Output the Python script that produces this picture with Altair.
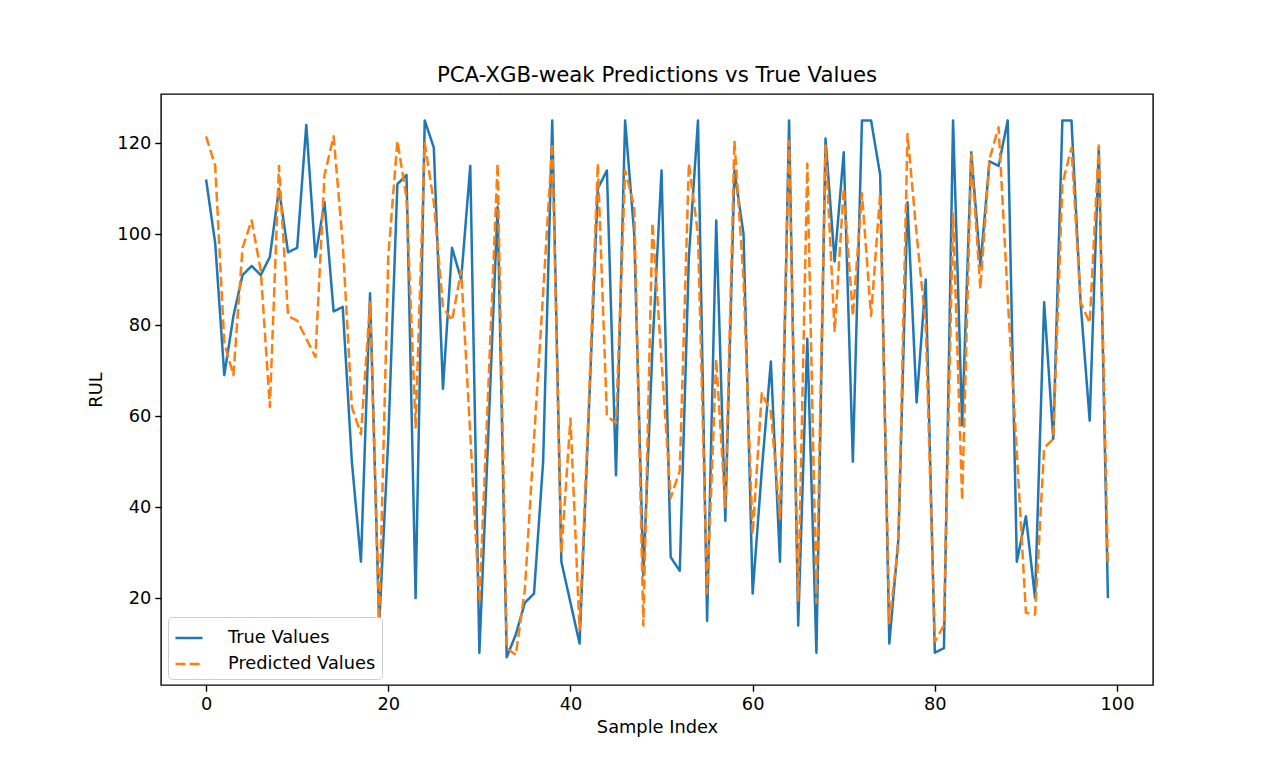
import altair as alt
import pandas as pd

# ---- data ----
sample_index = list(range(100))
true_values = [
    112, 98, 69, 82, 91, 93, 91, 95, 110, 96,
    97, 124, 95, 107, 83, 84, 50, 28, 87, 14,
    55, 111, 113, 20, 125, 119, 66, 97, 90, 115,
    8, 57, 106, 7, 12, 19, 21, 50, 125, 28,
    19, 10, 60, 110, 114, 47, 125, 100, 25, 75,
    114, 29, 26, 95, 125, 15, 103, 37, 114, 100,
    21, 48, 72, 28, 125, 14, 77, 8, 121, 94,
    118, 50, 125, 125, 113, 10, 33, 107, 63, 90,
    8, 9, 125, 58, 118, 93, 116, 115, 125, 28,
    38, 20, 85, 55, 125, 125, 85, 59, 119, 20,
]
predicted_values = [
    121.5, 115, 76, 69, 97, 103, 92, 62, 115, 82,
    81, 77, 73, 113, 121.5, 98, 62, 56, 85, 15,
    95, 120.5, 108, 57.5, 120, 107, 84, 81, 92, 56,
    19, 67, 115.5, 9, 7.5, 22, 55, 87, 120, 30,
    59.5, 13, 62, 115.5, 60, 58.5, 114, 106, 14, 102.5,
    72, 42, 48, 115.5, 100, 21, 72.5, 40, 120.5, 90,
    34, 65, 61, 37.5, 120.5, 19.5, 115.5, 19, 119.5, 78.5,
    110, 82, 109, 82, 109, 14.5, 32, 122, 100, 80,
    10.5, 14, 104.5, 41.5, 117.5, 88, 116.5, 123.5, 86, 52,
    16.8, 16.4, 53, 55, 111, 119, 85, 80.5, 119.5, 27,
]
series_names = ["True Values", "Predicted Values"]
series_colors = ["#1f77b4", "#ff7f0e"]
x_ticks = [0, 20, 40, 60, 80, 100]
y_ticks = [20, 40, 60, 80, 100, 120]

df = pd.DataFrame({
    "idx": sample_index * 2,
    "value": true_values + predicted_values,
    "series": [series_names[0]] * len(true_values) + [series_names[1]] * len(predicted_values),
})

FONT = "DejaVu Sans"
FS = 17.8
LW = 2.5

x_enc = alt.X(
    "idx:Q",
    scale=alt.Scale(domain=[-4.95, 103.95], nice=False, zero=False),
    axis=alt.Axis(values=x_ticks, title="Sample Index", format="d", titlePadding=5),
)
y_enc = alt.Y(
    "value:Q",
    scale=alt.Scale(domain=[0.9, 130.8], nice=False, zero=False),
    axis=alt.Axis(values=y_ticks, title="RUL", format="d", titlePadding=11),
)
color_enc = alt.Color(
    "series:N",
    scale=alt.Scale(domain=series_names, range=series_colors),
    legend=alt.Legend(
        title=None,
        orient="none",
        legendX=7,
        legendY=523,
        fillColor="white",
        strokeColor="#cccccc",
        cornerRadius=4,
        padding=6,
        symbolType="stroke",
        symbolSize=729,
        symbolStrokeWidth=LW,
        labelFont=FONT,
        labelFontSize=FS,
        labelColor="black",
        labelOffset=24,
        rowPadding=2,
    ),
)
dash_enc = alt.StrokeDash(
    "series:N",
    scale=alt.Scale(domain=series_names, range=[[1, 0], [9.9, 4.3]]),
    legend=alt.Legend(title=None),
)

base = alt.Chart(df).encode(x=x_enc, y=y_enc, color=color_enc, strokeDash=dash_enc)

true_layer = base.transform_filter(alt.datum.series == series_names[0]).mark_line(
    strokeWidth=LW, strokeJoin="round"
)
pred_layer = base.transform_filter(alt.datum.series == series_names[1]).mark_line(
    strokeWidth=LW, strokeJoin="round"
)

chart = (
    alt.layer(true_layer, pred_layer)
    .properties(
        width=992,
        height=591,
        padding={"left": 153, "top": 86, "right": 119, "bottom": 75},
        autosize=alt.AutoSizeParams(type="none"),
        background="white",
        title=alt.TitleParams(
            "PCA-XGB-weak Predictions vs True Values",
            font=FONT,
            fontSize=21.3,
            fontWeight="normal",
            color="black",
            anchor="middle",
            offset=8,
        ),
    )
    .configure_view(stroke="black", strokeWidth=1.4)
    .configure_axis(
        grid=False,
        domain=False,
        ticks=True,
        tickColor="black",
        tickSize=6.2,
        tickWidth=1.4,
        labelFont=FONT,
        labelFontSize=FS,
        labelColor="black",
        labelPadding=4,
        titleFont=FONT,
        titleFontSize=FS,
        titleFontWeight="normal",
        titleColor="black",
    )
)

chart.save("out.html", embed_options={"renderer": "svg", "actions": False})
